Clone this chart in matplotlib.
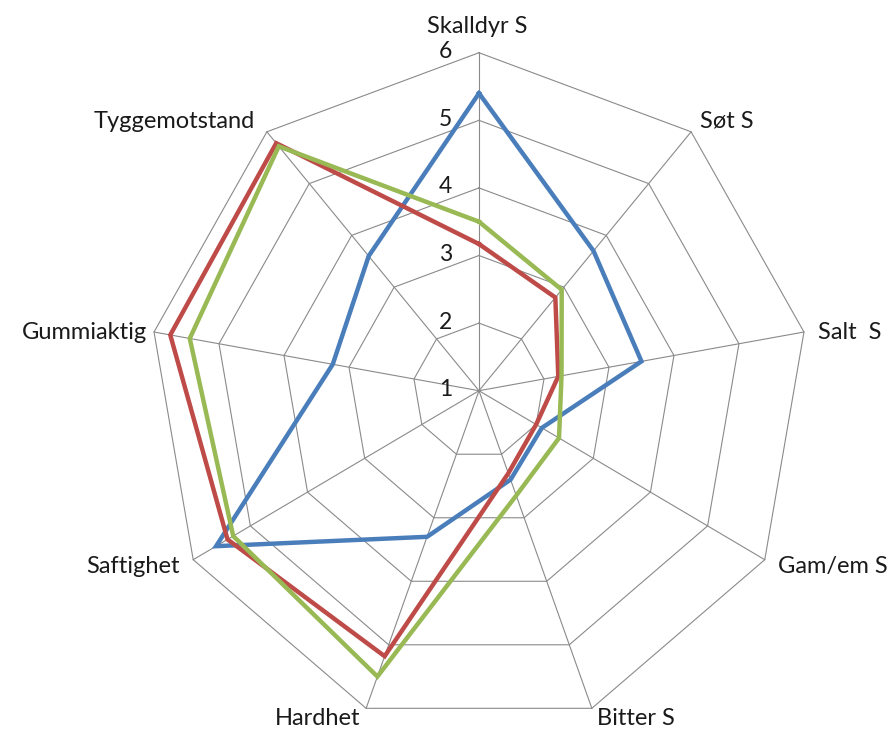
import numpy as np
import matplotlib
matplotlib.use("Agg")
import matplotlib.pyplot as plt

categories = ["Skalldyr S", "Søt S", "Salt  S", "Gam/em S", "Bitter S",
              "Hardhet", "Saftighet", "Gummiaktig", "Tyggemotstand"]
blue = [5.4, 3.7, 3.5, 2.1, 2.4, 3.3, 5.6, 3.25, 3.6]
red = [3.17, 2.8, 2.22, 2.0, 2.3, 5.18, 5.4, 5.75, 5.78]
green = [3.5, 2.95, 2.27, 2.4, 2.65, 5.5, 5.3, 5.45, 5.72]
rticks = [1, 2, 3, 4, 5, 6]

plt.rcParams['font.family'] = ['Lato', 'DejaVu Sans']

fig = plt.figure(figsize=(8.88, 7.33), dpi=100)
ax = fig.add_axes([0.1678, 0.00587, 0.7432, 0.9222], projection='polar')
ax.set_aspect('auto')
ax.set_theta_offset(np.pi / 2)
ax.set_theta_direction(-1)
ax.set_rlim(1, 6)
ax.grid(False)
ax.spines['polar'].set_visible(False)
ax.set_xticks([])
ax.set_yticks([])

n = len(categories)
ang = np.linspace(0, 2 * np.pi, n, endpoint=False)
ang_c = np.append(ang, ang[0])

grid_col = '#8a8a8a'
for a in ang:
    ax.plot([a, a], [1, 6], color=grid_col, lw=0.8, clip_on=False, zorder=1)
for lev in rticks[1:]:
    ax.plot(ang_c, [lev] * (n + 1), color=grid_col, lw=0.8, clip_on=False, zorder=1)

# series: blue, red, green (green drawn last)
for vals, col in [(blue, '#4A7EBB'), (red, '#BE4B48'), (green, '#98B954')]:
    v = list(vals) + [vals[0]]
    ax.plot(ang_c, v, color=col, lw=3.2, solid_joinstyle='miter',
            clip_on=False, zorder=3)

# value labels along the top spoke
for t in rticks:
    ax.annotate(str(t), xy=(0, t), xytext=(-27, 1), textcoords='offset pixels',
                ha='right', va='center', fontsize=16.5, color='#1a1a1a')

# category labels
offs = [((-2, 16), 'center', 'bottom'),
        ((9, 11), 'left', 'center'),
        ((14, 0), 'left', 'center'),
        ((13, -7), 'left', 'center'),
        ((5, -10), 'left', 'center'),
        ((-6, -10), 'right', 'center'),
        ((-13, -7), 'right', 'center'),
        ((-7, 0), 'right', 'center'),
        ((-12, 10), 'right', 'center')]
for a, lab, (o, ha, va) in zip(ang, categories, offs):
    ax.annotate(lab, xy=(a, 6), xytext=o, textcoords='offset pixels',
                ha=ha, va=va, fontsize=17, color='#1a1a1a', annotation_clip=False)

fig.savefig('out.png', dpi=100)
